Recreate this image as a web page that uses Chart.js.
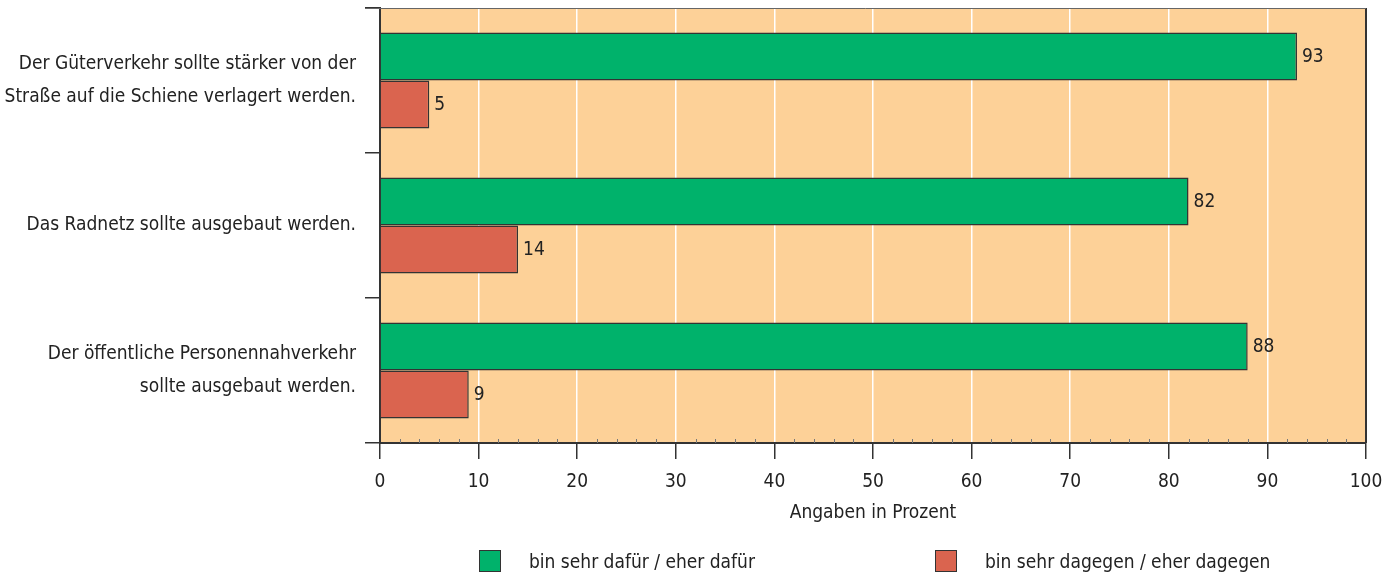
<!DOCTYPE html>
<html><head><meta charset="utf-8">
<script src="https://cdn.jsdelivr.net/npm/chart.js@4"></script>
<style>
html,body{margin:0;padding:0;background:#fff;}
#wrap{position:relative;width:1396px;height:577px;}
#legend{position:absolute;left:0;top:550px;width:1396px;height:26px;font-family:'Liberation Sans Narrow','DejaVu Sans Condensed',Roboto,sans-serif;font-size:19px;color:#222;}
.item{position:absolute;top:0;display:flex;align-items:center;}
.sw{width:22px;height:22px;border:1.5px solid #333;box-sizing:border-box;margin-right:28px;}
</style></head>
<body><div id="wrap"><canvas id="c" width="1396" height="577"></canvas><div id="legend"></div></div>
<script>
const categories = [
  ["Der Güterverkehr sollte stärker von der","Straße auf die Schiene verlagert werden."],
  ["Das Radnetz sollte ausgebaut werden."],
  ["Der öffentliche Personennahverkehr","sollte ausgebaut werden."]
];
const seriesNames = ["bin sehr dafür / eher dafür","bin sehr dagegen / eher dagegen"];
const dafuer = [93, 82, 88];
const dagegen = [5, 14, 9];
const xTicks = [0,10,20,30,40,50,60,70,80,90,100];
const colors = ["#00B26B","#DA644F"];
const FONT = "'Liberation Sans Narrow','DejaVu Sans Condensed',Roboto,sans-serif";
const DARK = "#333333";

const bgPlugin = {
  id:'bg',
  beforeDraw(chart){
    const {ctx, chartArea:a} = chart;
    ctx.save(); ctx.fillStyle = "#FDD198";
    ctx.fillRect(a.left, a.top, a.right-a.left, a.bottom-a.top);
    ctx.restore();
  },
  afterDatasetsDraw(chart){
    const {ctx, chartArea:a} = chart;
    const xs = chart.scales.x;
    ctx.save();
    ctx.strokeStyle = DARK; ctx.lineWidth = 2;
    ctx.beginPath(); ctx.moveTo(a.right, a.top); ctx.lineTo(a.right, a.bottom); ctx.stroke();
    ctx.strokeStyle = "#666"; ctx.lineWidth = 1;
    ctx.beginPath(); ctx.moveTo(a.left-15, a.top+0.5); ctx.lineTo(a.right, a.top+0.5); ctx.stroke();
    // minor ticks
    ctx.strokeStyle = "#777"; ctx.lineWidth = 1;
    for (let v=2; v<100; v+=2){
      if (v%10===0) continue;
      const px = Math.round(xs.getPixelForValue(v))+0.5;
      ctx.beginPath(); ctx.moveTo(px, a.bottom-4); ctx.lineTo(px, a.bottom); ctx.stroke();
    }
    // value labels
    ctx.fillStyle = "#222"; ctx.font = "19px "+FONT; ctx.textBaseline = "middle"; ctx.textAlign = "left";
    chart.data.datasets.forEach((ds,i)=>{
      chart.getDatasetMeta(i).data.forEach((bar,j)=>{
        ctx.fillText(String(ds.data[j]), bar.x+5, bar.y+1);
      });
    });
    ctx.restore();
  }
};

new Chart(document.getElementById('c'), {
  type:'bar',
  data:{
    labels: categories,
    datasets:[
      {label:seriesNames[0], data:dafuer, backgroundColor:colors[0], borderColor:DARK, borderWidth:1.5},
      {label:seriesNames[1], data:dagegen, backgroundColor:colors[1], borderColor:DARK, borderWidth:1.5}
    ]
  },
  plugins:[bgPlugin],
  options:{
    indexAxis:'y',
    responsive:false,
    animation:false,
    layout:{padding:{left:0,right:30,top:8,bottom:53}},
    datasets:{bar:{barPercentage:1, categoryPercentage:0.662}},
    plugins:{legend:{display:false}, tooltip:{enabled:false}},
    scales:{
      x:{
        min:0, max:100,
        afterBuildTicks(s){ s.ticks = xTicks.map(v=>({value:v})); },
        afterFit(s){ s.height = 81; },
        grid:{color:'#ffffff', lineWidth:1.5, tickColor:DARK, tickLength:16, drawTicks:true},
        border:{display:true, color:DARK, width:2},
        ticks:{color:'#222', font:{family:FONT,size:19}, padding:12},
        title:{display:true, text:'Angaben in Prozent', color:'#222', font:{family:FONT,size:19}, padding:{top:4,bottom:0}}
      },
      y:{
        afterFit(s){ s.width = 380; s.paddingTop = 0; s.paddingBottom = 0; },
        grid:{offset:true, drawOnChartArea:false, tickLength:15, tickColor:DARK, lineWidth:1.5},
        border:{display:true, color:DARK, width:2},
        ticks:{color:'#222', font:{family:FONT,size:19, lineHeight:1.7}, padding:9}
      }
    }
  }
});

const lg = document.getElementById('legend');
const lx = [479, 935];
seriesNames.forEach((n,i)=>{
  const d = document.createElement('div'); d.className='item'; d.style.left = lx[i]+'px';
  d.innerHTML = '<span class="sw" style="background:'+colors[i]+'"></span><span>'+n+'</span>';
  lg.appendChild(d);
});
</script></body></html>
